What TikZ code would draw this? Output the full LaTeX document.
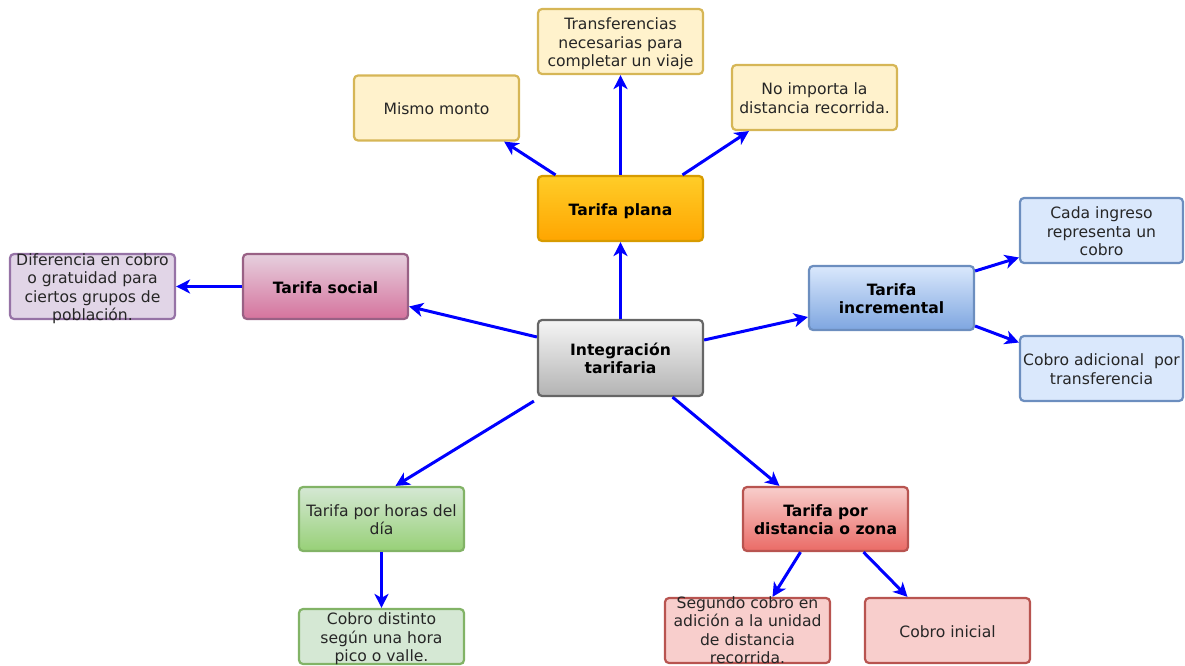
\documentclass[tikz,border=0pt]{standalone}
\usepackage{fontspec}
\setmainfont{DejaVu Sans}
\usetikzlibrary{arrows.meta}

% box text: centred lines, height ignored so long texts may overflow the box
\newcommand\boxtxt[1]{\raisebox{-.42em}[0pt][0pt]{\begin{tabular}{@{}c@{}}#1\end{tabular}}}

\definecolor{ylF}{HTML}{FFF2CC}\definecolor{ylD}{HTML}{D6B656}
\definecolor{orT}{HTML}{FFCD28}\definecolor{orB}{HTML}{FFA500}\definecolor{orD}{HTML}{D79B00}
\definecolor{pkT}{HTML}{E6D0DE}\definecolor{pkB}{HTML}{D5739D}\definecolor{pkD}{HTML}{996185}
\definecolor{vlF}{HTML}{E1D5E7}\definecolor{vlD}{HTML}{9673A6}
\definecolor{gyT}{HTML}{F5F5F5}\definecolor{gyB}{HTML}{B3B3B3}\definecolor{gyD}{HTML}{666666}
\definecolor{blF}{HTML}{DAE8FC}\definecolor{blB}{HTML}{7EA6E0}\definecolor{blD}{HTML}{6C8EBF}
\definecolor{gnF}{HTML}{D5E8D4}\definecolor{gnB}{HTML}{97D077}\definecolor{gnD}{HTML}{82B366}
\definecolor{rdF}{HTML}{F8CECC}\definecolor{rdB}{HTML}{EA6B66}\definecolor{rdD}{HTML}{B85450}
\definecolor{txt}{HTML}{262626}

\tikzset{
  box/.style={rectangle, rounded corners=4pt, line width=2.2pt, inner sep=0pt,
    minimum width=165pt, minimum height=65pt,
    font=\fontsize{15.6}{18.4}\selectfont, text=txt},
  keybox/.style={box, font=\fontsize{15.6}{18.4}\selectfont\bfseries, text=black},
  link/.style={draw=blue, line width=3pt,
    -{Stealth[length=14pt,width=14pt,inset=4pt]}},
}

\begin{document}
\begin{tikzpicture}[x=1pt,y=-1pt]
\useasboundingbox (0,0) rectangle (1185,666);

% centre
\node[keybox, top color=gyT, bottom color=gyB, draw=gyD, minimum height=76pt]
  (integ) at (620.5,358) {\boxtxt{Integración\\tarifaria}};

% flat fare
\node[keybox, top color=orT, bottom color=orB, draw=orD] (plana) at (620.5,208.5) {\boxtxt{Tarifa plana}};
\node[box, fill=ylF, draw=ylD] (trans) at (620.5,41.5) {\boxtxt{Transferencias\\necesarias para\\completar un viaje}};
\node[box, fill=ylF, draw=ylD] (mismo) at (436.5,108) {\boxtxt{Mismo monto}};
\node[box, fill=ylF, draw=ylD] (noimp) at (814.5,97.5) {\boxtxt{No importa la\\distancia recorrida.}};

% social fare
\node[keybox, top color=pkT, bottom color=pkB, draw=pkD] (social) at (325.5,286.5) {\boxtxt{Tarifa social}};
\node[box, fill=vlF, draw=vlD] (dif) at (92.5,286.5) {\boxtxt{Diferencia en cobro\\o gratuidad para\\ciertos grupos de\\población.}};

% incremental fare
\node[keybox, top color=blF, bottom color=blB, draw=blD, minimum height=64pt] (incr) at (891.5,298) {\boxtxt{Tarifa\\incremental}};
\node[box, fill=blF, draw=blD, minimum width=163pt] (cada) at (1101.5,230.5) {\boxtxt{Cada ingreso\\representa un\\cobro}};
\node[box, fill=blF, draw=blD, minimum width=163pt] (adic) at (1101.5,368.5) {\boxtxt{Cobro adicional~ por\\transferencia}};

% time-of-day fare
\node[box, top color=gnF, bottom color=gnB, draw=gnD, minimum height=64pt] (horas) at (381.5,519) {\boxtxt{Tarifa por horas del\\día}};
\node[box, fill=gnF, draw=gnD, minimum height=55pt] (distinto) at (381.5,636.5) {\boxtxt{Cobro distinto\\según una hora\\pico o valle.}};

% distance / zone fare
\node[keybox, top color=rdF, bottom color=rdB, draw=rdD, minimum height=64pt] (dist) at (825.5,519) {\boxtxt{Tarifa por\\distancia o zona}};
\node[box, fill=rdF, draw=rdD] (segundo) at (747.5,630.5) {\raisebox{2pt}{\boxtxt{Segundo cobro en\\adición a la unidad\\de distancia\\recorrida.}}};
\node[box, fill=rdF, draw=rdD] (inicial) at (947.5,630.5) {\boxtxt{Cobro inicial}};

% connectors
\draw[link] (integ.north) -- (plana.south);
\draw[link] (plana.north) -- (trans.south);
\draw[link] ([xshift=-65pt]plana.north) -- ([xshift=-16pt]mismo.south east);
\draw[link] ([xshift=62pt]plana.north) -- ([xshift=18pt]noimp.south west);
\draw[link] ([yshift=21pt]integ.west) -- ([yshift=-20pt]social.east);
\draw[link] (social.west) -- (dif.east);
\draw[link] ([yshift=18pt]integ.east) -- ([yshift=-19pt]incr.west);
\draw[link] ([yshift=27pt]incr.east) -- ([yshift=-27pt]cada.west);
\draw[link] ([yshift=-28pt]incr.east) -- ([yshift=26pt]adic.west);
\draw[link] ([xshift=-3pt,yshift=-4pt]integ.south west) -- ([xshift=14pt]horas.north);
\draw[link] ([xshift=52pt]integ.south) -- ([xshift=-46pt]dist.north);
\draw[link] (horas.south) -- (distinto.north);
\draw[link] ([xshift=-25pt]dist.south) -- ([xshift=25pt]segundo.north);
\draw[link] ([xshift=38pt]dist.south) -- ([xshift=-40pt]inicial.north);
\end{tikzpicture}
\end{document}
